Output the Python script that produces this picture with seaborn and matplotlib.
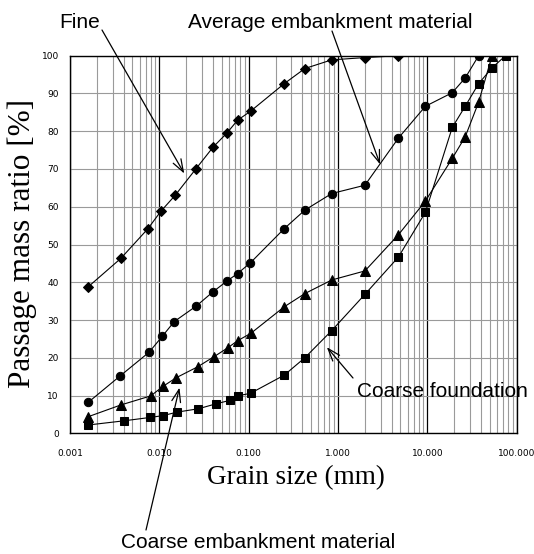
import matplotlib
matplotlib.use("Agg")
import matplotlib.pyplot as plt
import seaborn as sns
import numpy as np
import pandas as pd
from matplotlib.ticker import LogLocator, FixedLocator, NullFormatter

# ---- data ----
fine_x = [0.0016, 0.0037, 0.0074, 0.0104, 0.015, 0.0256, 0.040, 0.057, 0.075, 0.105, 0.25, 0.425, 0.85, 2.0, 4.75]
fine_y = [38.8, 46.3, 54.1, 58.8, 63.0, 70.0, 75.8, 79.5, 82.9, 85.3, 92.6, 96.6, 98.9, 99.5, 100.0]

avg_x = [0.0016, 0.0036, 0.0077, 0.0108, 0.0147, 0.0259, 0.040, 0.057, 0.075, 0.104, 0.25, 0.425, 0.85, 2.0, 4.75, 9.5, 19.0, 26.5, 37.5]
avg_y = [8.2, 15.1, 21.5, 25.7, 29.6, 33.7, 37.5, 40.3, 42.3, 45.1, 54.2, 59.1, 63.5, 65.7, 78.2, 86.6, 90.2, 94.1, 100.0]

ce_x = [0.0016, 0.0037, 0.008, 0.0111, 0.0154, 0.0268, 0.041, 0.058, 0.075, 0.106, 0.25, 0.425, 0.85, 2.0, 4.75, 9.5, 19.0, 26.5, 37.5, 53.0]
ce_y = [4.4, 7.5, 9.9, 12.5, 14.7, 17.6, 20.3, 22.6, 24.5, 26.5, 33.5, 37.0, 40.6, 43.0, 52.6, 61.5, 72.8, 78.5, 87.7, 100.0]

cf_x = [0.0016, 0.0040, 0.0079, 0.0111, 0.0157, 0.0274, 0.043, 0.061, 0.075, 0.105, 0.25, 0.425, 0.85, 2.0, 4.75, 9.5, 19.0, 26.5, 37.5, 53.0, 75.0]
cf_y = [2.2, 3.3, 4.2, 4.7, 5.6, 6.5, 7.8, 8.7, 9.9, 10.6, 15.4, 20.0, 27.2, 36.8, 46.7, 58.5, 81.0, 86.6, 92.6, 96.8, 100.0]

x_ticks = [0.001, 0.01, 0.1, 1, 10, 100]
x_tick_labels = ["0.001", "0.010", "0.100", "1.000", "10.000", "100.000"]
y_ticks = [0, 10, 20, 30, 40, 50, 60, 70, 80, 90, 100]

sns.set_style("white")
plt.rcParams['font.family'] = ['Liberation Sans', 'DejaVu Sans']
plt.rcParams['text.color'] = 'black'

fig = plt.figure(figsize=(5.34, 5.54), dpi=100)
ax = fig.add_axes([70/534, 1-433.3/554, (516.7-70)/534, (433.3-55.7)/554])

series = [
    (fine_x, fine_y, "D", 5.5),
    (avg_x, avg_y, "o", 6.0),
    (ce_x, ce_y, "^", 6.5),
    (cf_x, cf_y, "s", 5.8),
]
for xs, ys, mk, ms in series:
    df = pd.DataFrame({"x": xs, "y": ys})
    sns.lineplot(data=df, x="x", y="y", ax=ax, color="black", lw=0.8,
                 marker=mk, markersize=ms, markeredgecolor="black",
                 markerfacecolor="black", estimator=None, sort=False, zorder=5)

ax.set_xscale("log")
ax.set_xlim(0.001, 100)
ax.set_ylim(0, 100)
ax.xaxis.set_major_locator(FixedLocator(x_ticks))
ax.set_xticklabels(x_tick_labels)
ax.xaxis.set_minor_locator(LogLocator(base=10, subs=np.arange(2, 10)))
ax.xaxis.set_minor_formatter(NullFormatter())
ax.set_yticks(y_ticks)

ax.grid(True, which="major", axis="x", color="black", lw=0.9)
ax.grid(True, which="minor", axis="x", color="#9a9a9a", lw=0.8)
ax.grid(True, which="major", axis="y", color="#9a9a9a", lw=0.8)
ax.set_axisbelow(True)
for s in ax.spines.values():
    s.set_color("black")
    s.set_linewidth(1.0)

ax.tick_params(axis="both", which="both", length=0, labelsize=6.5,
               colors="black", labelcolor="black")
ax.tick_params(axis="y", pad=8)
ax.tick_params(axis="x", pad=11)
for lab in ax.get_xticklabels() + ax.get_yticklabels():
    lab.set_fontfamily(['DejaVu Sans'])

ax.set_xlabel("")
ax.set_ylabel("")
fig.text(295.5/534, 1-478/554, "Grain size (mm)", family="Liberation Serif",
         fontsize=19.5, ha="center", va="center", color="black")
fig.text(22/534, 1-243/554, "Passage mass ratio [%]", family="Liberation Serif",
         fontsize=22.5, ha="center", va="center", rotation=90, color="black")

H = 554
ap = dict(arrowstyle="->,head_length=0.9,head_width=0.32", color="black", lw=0.9,
          shrinkA=0, shrinkB=0)
# annotations: (text, text center px, tail px, head data)
annots = [
    ("Fine", (80, 22), (102, 30), (0.019, 68.8)),
    ("Average embankment material", (330.5, 22), (332, 31), (2.96, 71.2)),
    ("Coarse foundation", (442, 391.5), (353, 378), (0.75, 22.8)),
    ("Coarse embankment material", (258, 542), (146, 530), (0.0168, 12.1)),
]
for txt, (tx, ty), (ax_, ay_), head in annots:
    fig.text(tx/534, 1-ty/H, txt, fontsize=15, ha="center", va="center",
             family="Liberation Sans", color="black")
    ax.annotate("", xy=head, xycoords="data", xytext=(ax_, H-ay_),
                textcoords="figure pixels", arrowprops=ap, annotation_clip=False)

fig.savefig("out.png", dpi=100)
